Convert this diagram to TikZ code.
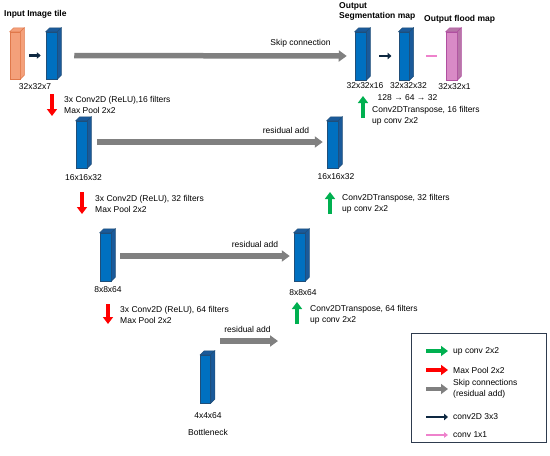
\documentclass[tikz,border=0pt]{standalone}
\usepackage{fontspec}
\setmainfont{Liberation Sans}
\usepackage{tikz}
\usetikzlibrary{arrows.meta,positioning}
\definecolor{unetblue}{HTML}{0070C0}
\definecolor{unetedge}{HTML}{1F4E79}
\definecolor{unetside}{HTML}{1A5A9A}
\definecolor{tileorange}{HTML}{F4A07A}
\definecolor{tileedge}{HTML}{E0784A}
\definecolor{floodpink}{HTML}{D98AC6}
\definecolor{floodedge}{HTML}{B04FA0}
\definecolor{skipgray}{HTML}{808080}
\definecolor{upgreen}{HTML}{00B050}
\definecolor{poolred}{HTML}{FF0000}
\definecolor{convnavy}{HTML}{0E2841}
\definecolor{onepink}{HTML}{EE82CC}
\definecolor{legendedge}{HTML}{2E3B4E}
\newcommand{\faces}[3]{% depth faces of a layer block
  \filldraw[fill=#2, draw=#3, line width=0.5pt] (#1.north west) -- ([shift={(4,-4)}]#1.north west)
    -- ([shift={(4,-4)}]#1.north east) -- (#1.north east) -- cycle;
  \filldraw[fill=#2, draw=#3, line width=0.5pt] (#1.north east) -- ([shift={(4,-4)}]#1.north east)
    -- ([shift={(4,-4)}]#1.south east) -- (#1.south east) -- cycle;
}
\tikzset{
  layer/.style   = {rectangle, inner sep=0pt, minimum width=11pt, minimum height=47pt,
                    fill=#1, line width=0.5pt},
  dims/.style    = {font=\fontsize{8.5}{10}\selectfont, inner sep=0pt},
  head/.style    = {font=\fontsize{8.5}{10.5}\selectfont\bfseries, inner sep=0pt, align=left},
  info/.style    = {font=\fontsize{8.5}{11}\selectfont, inner sep=0pt, align=left, anchor=west},
  skip/.style    = {draw=skipgray, line width=5.5pt, -{Triangle[length=8pt,width=11pt]}},
  pool/.style    = {draw=poolred, line width=4.5pt, -{Triangle[length=7pt,width=10pt]}},
  upconv/.style  = {draw=upgreen, line width=4.5pt, -{Triangle[length=7pt,width=10pt]}},
  conv/.style    = {draw=convnavy, line width=2.4pt, -{Triangle[length=4pt,width=6.5pt]}},
  onebyone/.style= {draw=onepink, line width=1.6pt},
}
\begin{document}
\begin{tikzpicture}[x=1pt, y=-1pt]
  \useasboundingbox (0,0) rectangle (550,456);
  % encoder
  \node[layer=tileorange, draw=tileedge, minimum width=10pt] (tile) at (15,55.5) {};
  \faces{tile}{tileorange}{tileedge}
  \node[layer=unetblue, draw=unetedge] (enc1) at (51.5,55.5) {};
  \faces{enc1}{unetside}{unetedge}
  \node[layer=unetblue, draw=unetedge] (enc2) at (81.5,144.5) {};
  \faces{enc2}{unetside}{unetedge}
  \node[layer=unetblue, draw=unetedge, minimum height=48pt] (enc3) at (105.5,257) {};
  \faces{enc3}{unetside}{unetedge}
  \node[layer=unetblue, draw=unetedge, minimum width=10pt, minimum height=48pt] (neck) at (205.5,379) {};
  \faces{neck}{unetside}{unetedge}
  % decoder
  \node[layer=unetblue, draw=unetedge, minimum height=48pt] (dec1) at (360.5,56) {};
  \faces{dec1}{unetside}{unetedge}
  \node[layer=unetblue, draw=unetedge, minimum width=10.5pt, minimum height=48pt] (seg) at (404,56) {};
  \faces{seg}{unetside}{unetedge}
  \node[layer=floodpink, draw=floodedge, minimum height=48pt] (flood) at (451.5,56) {};
  \faces{flood}{floodpink!85!black}{floodedge}
  \node[layer=unetblue, draw=unetedge] (dec2) at (332.5,144.5) {};
  \faces{dec2}{unetside}{unetedge}
  \node[layer=unetblue, draw=unetedge, minimum height=48pt] (dec3) at (299.5,257) {};
  \faces{dec3}{unetside}{unetedge}
  % headings
  \node[head, anchor=west] (inhead) at (4,14) {Input Image tile};
  \node[head, anchor=west] (seghead) at (339,11.5) {Output\\Segmentation map};
  \node[head, anchor=west] (floodhead) at (424,19) {Output flood map};
  % sizes
  \node[dims] (tiledim) at (35,87) {32x32x7};
  \node[dims] (dec1dim) at (365,86) {32x32x16};
  \node[dims] (segdim) at (408.5,86) {32x32x32};
  \node[dims] (flooddim) at (454.5,87) {32x32x1};
  \node[dims] (chan) at (407.5,98) {128 → 64 → 32};
  \node[dims] (enc2dim) at (83.5,178) {16x16x32};
  \node[dims] (dec2dim) at (336,177) {16x16x32};
  \node[dims] (enc3dim) at (108,290) {8x8x64};
  \node[dims] (dec3dim) at (303,293) {8x8x64};
  \node[dims] (neckdim) at (208,416) {4x4x64};
  \node[dims] (necklbl) at (208,432) {Bottleneck};
  % connections
  \draw[conv, shorten <=9pt, shorten >=5pt] (tile) -- (enc1);
  \draw[conv, shorten <=13pt, shorten >=7pt] (dec1) -- (seg);
  \draw[onebyone, shorten <=16.5pt, shorten >=9pt] (seg) -- (flood);
  \draw[skip, shorten <=17pt, shorten >=8pt] (enc1) -- (dec1);
  \node[dims] (skiplbl) at (300.5,43) {Skip connection};
  \draw[skip, shorten <=10pt, shorten >=4pt] ([yshift=2.5pt]enc2.east) -- ([yshift=2.5pt]dec2.west);
  \node[dims] (res2lbl) at (286,130) {residual add};
  \draw[skip, shorten <=9pt, shorten >=4pt] ([yshift=1pt]enc3.east) -- ([yshift=1pt]dec3.west);
  \node[dims] (res3lbl) at (255,244) {residual add};
  \coordinate (res4a) at (220,341);
  \coordinate (res4b) at (278,341);
  \draw[skip] (res4a) -- (res4b);
  \node[dims] (res4lbl) at (247.5,329) {residual add};
  % down path
  \coordinate (pool1a) at (52,94); \coordinate (pool1b) at (52,116);
  \draw[pool] (pool1a) -- (pool1b);
  \node[info] (pool1txt) at (64,104.5) {3x Conv2D (ReLU),16 filters\\Max Pool 2x2};
  \coordinate (pool2a) at (82,192); \coordinate (pool2b) at (82,214);
  \draw[pool] (pool2a) -- (pool2b);
  \node[info] (pool2txt) at (95,203.5) {3x Conv2D (ReLU), 32 filters\\Max Pool 2x2};
  \coordinate (pool3a) at (108,304); \coordinate (pool3b) at (108,324);
  \draw[pool] (pool3a) -- (pool3b);
  \node[info] (pool3txt) at (120,314.5) {3x Conv2D (ReLU), 64 filters\\Max Pool 2x2};
  % up path
  \coordinate (up1a) at (363,118); \coordinate (up1b) at (363,96);
  \draw[upconv] (up1a) -- (up1b);
  \node[info] (up1txt) at (372,115.5) {Conv2DTranspose, 16 filters\\up conv 2x2};
  \coordinate (up2a) at (330,214); \coordinate (up2b) at (330,192);
  \draw[upconv] (up2a) -- (up2b);
  \node[info] (up2txt) at (342,203.5) {Conv2DTranspose, 32 filters\\up conv 2x2};
  \coordinate (up3a) at (297,324); \coordinate (up3b) at (297,302);
  \draw[upconv] (up3a) -- (up3b);
  \node[info] (up3txt) at (310,314.5) {Conv2DTranspose, 64 filters\\up conv 2x2};
  % legend
  \node[draw=legendedge, line width=1pt, minimum width=135pt, minimum height=109pt] (legend) at (478.5,387.5) {};
  \node[info] (keyup) at (453,351) {up conv 2x2};
  \node[info] (keypool) at (453,370) {Max Pool 2x2};
  \node[info] (keyskip) at (453,389) {Skip connections\\(residual add)};
  \node[info] (keyconv) at (453,417) {conv2D 3x3};
  \node[info] (keyone) at (453,435) {conv 1x1};
  \coordinate (keyupa) at (426,351);
  \draw[upconv, line width=4pt] (keyupa) -- ([xshift=-5pt]keyup.west);
  \coordinate (keypoola) at (426,370);
  \draw[pool, line width=4pt] (keypoola) -- ([xshift=-5pt]keypool.west);
  \coordinate (keyskipa) at (426,389);
  \draw[skip, line width=4.5pt, -{Triangle[length=7pt,width=10pt]}] (keyskipa) -- ([xshift=-5pt]keyskip.west);
  \coordinate (keyconva) at (426,417);
  \draw[conv] (keyconva) -- ([xshift=-5pt]keyconv.west);
  \coordinate (keyonea) at (426,435);
  \draw[onebyone, -{Triangle[length=4pt,width=5.5pt]}] (keyonea) -- ([xshift=-5pt]keyone.west);
\end{tikzpicture}
\end{document}
